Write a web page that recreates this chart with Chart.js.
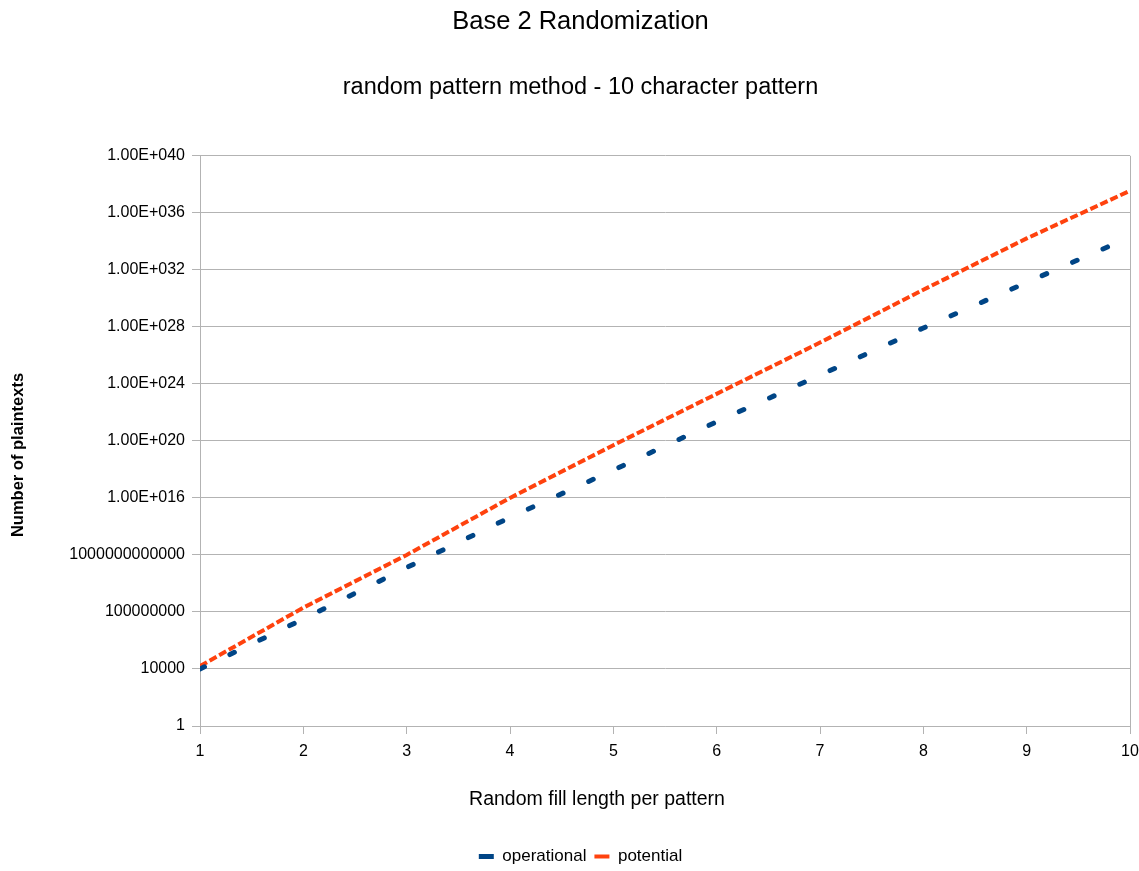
<!DOCTYPE html>
<html lang="en">
<head>
    <meta charset="UTF-8">
    <title>Base 2 Randomization</title>
    <script src="https://cdn.jsdelivr.net/npm/chart.js"></script>
    <style>
        body { margin: 0; overflow: hidden; background: #fff; }
        .chart-box { position: relative; width: 1139px; height: 880px; }
    </style>
</head>
<body>
    <div class="chart-box">
        <canvas id="randomization"></canvas>
    </div>

    <script>
        // Random fill length (x axis)
        const fillLengths = [1, 2, 3, 4, 5, 6, 7, 8, 9, 10];

        // Number of plaintexts
        const operational = [1.0e4, 3.2e7, 1.3e11, 4.3e14, 8.9e17, 2.2e21, 4.1e24, 8.3e27, 1.3e31, 2.0e34];
        const potential = [1.6e4, 2.0e8, 1.0e12, 1.0e16, 5.0e19, 2.0e23, 7.9e26, 4.0e30, 1.6e34, 3.5e37];

        // y ticks every 4 decades, labelled like the spreadsheet did
        const yTickExponents = [0, 4, 8, 12, 16, 20, 24, 28, 32, 36, 40];
        const yTickLabels = ['1', '10000', '100000000', '1000000000000', '1.00E+016', '1.00E+020',
            '1.00E+024', '1.00E+028', '1.00E+032', '1.00E+036', '1.00E+040'];

        const fontFamily = '"Liberation Sans", Arial, sans-serif';
        const gridGrey = '#b3b3b3';
        Chart.defaults.font.family = fontFamily;
        Chart.defaults.color = '#000';

        // axis titles sit off-centre in the original, so draw them by hand
        const axisTitles = {
            id: 'axisTitles',
            afterDraw(chart) {
                const ctx = chart.ctx;
                ctx.save();
                ctx.fillStyle = '#000';
                ctx.textAlign = 'center';
                ctx.textBaseline = 'middle';
                ctx.font = '19.5px ' + fontFamily;
                ctx.fillText('Random fill length per pattern', 597, 800);
                ctx.translate(18, 455);
                ctx.rotate(-Math.PI / 2);
                ctx.font = 'bold 16.5px ' + fontFamily;
                ctx.fillText('Number of plaintexts', 0, 0);
                ctx.restore();
            }
        };

        function toPoints(values) {
            return fillLengths.map((x, i) => ({ x: x, y: values[i] }));
        }

        new Chart(document.getElementById('randomization'), {
            type: 'line',
            data: {
                datasets: [{
                    label: 'operational',
                    data: toPoints(operational),
                    borderColor: '#004586',
                    backgroundColor: '#004586',
                    borderWidth: 5,
                    borderDash: [5, 28.2],
                    borderCapStyle: 'round',
                    pointRadius: 0
                }, {
                    label: 'potential',
                    data: toPoints(potential),
                    borderColor: '#ff420e',
                    backgroundColor: '#ff420e',
                    borderWidth: 4,
                    borderDash: [8, 3],
                    pointRadius: 0
                }]
            },
            options: {
                responsive: true,
                maintainAspectRatio: false,
                animation: false,
                layout: { padding: { left: 22, right: 0, top: 0, bottom: 5 } },
                plugins: {
                    title: {
                        display: true,
                        text: 'Base 2 Randomization',
                        font: { size: 25.5, weight: 'normal' },
                        padding: { top: 7, bottom: 0 }
                    },
                    subtitle: {
                        display: true,
                        text: 'random pattern method - 10 character pattern',
                        font: { size: 23.5 },
                        padding: { top: 36, bottom: 54 }
                    },
                    legend: {
                        position: 'bottom',
                        labels: {
                            usePointStyle: true,
                            pointStyle: 'line',
                            pointStyleWidth: 15,
                            font: { size: 17 },
                            padding: 8
                        }
                    },
                    tooltip: { enabled: false }
                },
                scales: {
                    x: {
                        type: 'linear',
                        min: 1,
                        max: 10,
                        ticks: { stepSize: 1, padding: 8, font: { size: 16 } },
                        grid: {
                            color: (c) => (c.index === 0 || c.index === fillLengths.length - 1) ? gridGrey : 'rgba(0,0,0,0)',
                            tickColor: gridGrey,
                            tickLength: 8
                        },
                        border: { color: gridGrey },
                        afterFit: (scale) => {
                            scale.height = 114;
                            scale.paddingLeft = 0;
                            scale.paddingRight = 9;
                        }
                    },
                    y: {
                        type: 'logarithmic',
                        min: 1,
                        max: 1e40,
                        afterBuildTicks: (scale) => {
                            scale.ticks = yTickExponents.map(e => ({ value: Number('1e' + e) }));
                        },
                        ticks: {
                            padding: 7,
                            font: { size: 16 },
                            callback: (value, index) => yTickLabels[index]
                        },
                        grid: { color: gridGrey, tickLength: 8 },
                        border: { color: gridGrey },
                        afterFit: (scale) => { scale.width = 178; }
                    }
                }
            },
            plugins: [axisTitles]
        });
    </script>
</body>
</html>
